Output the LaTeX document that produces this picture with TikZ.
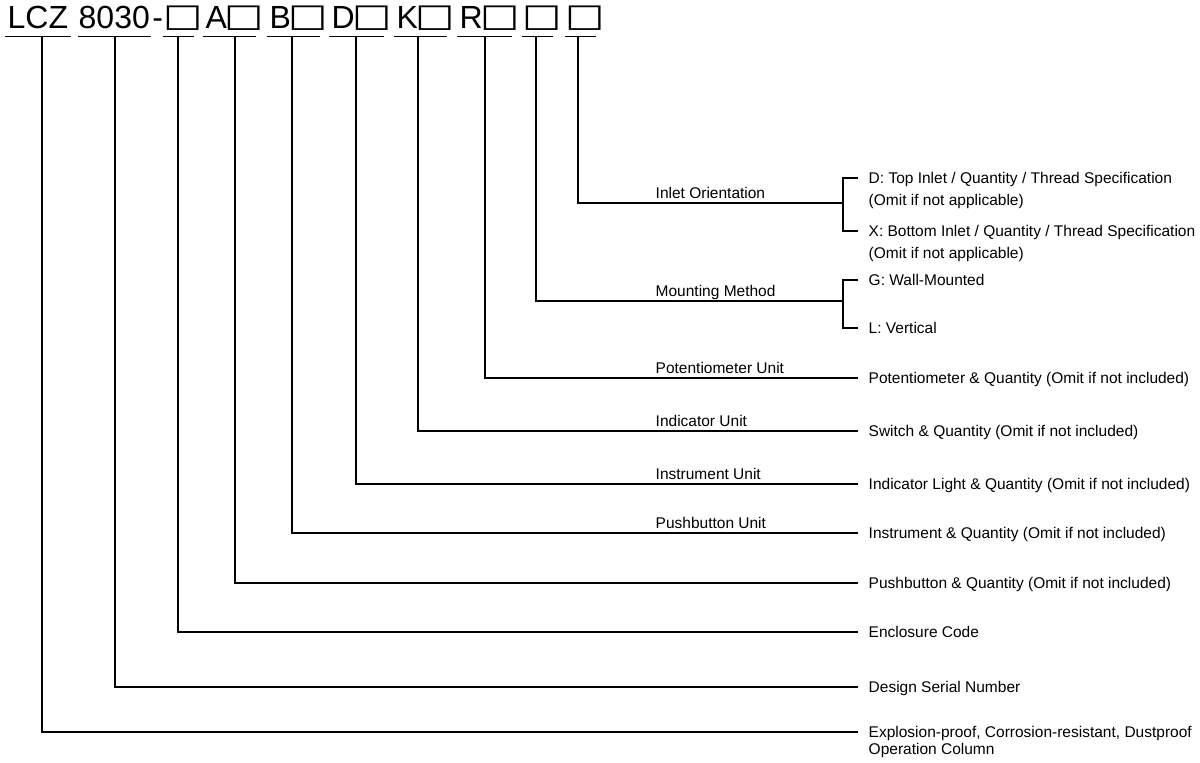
\documentclass[tikz,border=0pt]{standalone}
\usepackage{fontspec}
\setmainfont{Liberation Sans}
\newfontfamily\boxfont{DejaVu Sans}
\usepackage{graphicx}
\usepackage{tikz}
\usetikzlibrary{positioning}
\newcommand{\codebox}{{\boxfont\fontsize{16}{16}\selectfont\makebox[13pt]{\hspace{4pt}\raisebox{1pt}{\scalebox{1.3}[1]{□}}}}}

\begin{document}
\begin{tikzpicture}[x=0.5pt, y=-0.5pt, line width=0.7pt,
        code/.style={font=\fontsize{16}{18}\selectfont, anchor=base west, inner xsep=1pt, inner ysep=4pt, text depth=0pt},
        desc/.style={font=\fontsize{7.75}{9}\selectfont, anchor=west, inner xsep=5pt, inner ysep=0pt, text height=7pt, text depth=1.5pt},
        unit/.style={font=\fontsize{7.75}{9}\selectfont, anchor=base west, inner sep=0pt}]
      \useasboundingbox (0,0) rectangle (1200,762);
      \node[code] (lcz) at (5,28) {LCZ};
      \node[code, inner xsep=0pt] (num) at (78,28) {8030};
      \node[code, inner xsep=0.5pt] (dash) at (num.base east) {-};
      \foreach \n/\x/\t in {boxE/163/, boxA/203/A, boxB/267/B, boxD/329/D, boxK/394/K, boxR/457/R, boxM/522/, boxI/565/}
        \node[code] (\n) at (\x,28) {\t\codebox};
      \foreach \n in {lcz, num, boxE, boxA, boxB, boxD, boxK, boxR, boxM, boxI}
        \draw (\n.south west) -- (\n.south east);

      \node[desc] (dTop) at (858,178) {D: Top Inlet / Quantity / Thread Specification};
      \node[desc] (dTopNote) at (858,200) {(Omit if not applicable)};
      \node[desc] (dBot) at (858,231) {X: Bottom Inlet / Quantity / Thread Specification};
      \node[desc] (dBotNote) at (858,253) {(Omit if not applicable)};
      \node[desc] (dG) at (858,280) {G: Wall-Mounted};
      \node[desc] (dL) at (858,328) {L: Vertical};
      \node[desc] (dR) at (858,378) {Potentiometer \& Quantity (Omit if not included)};
      \node[desc] (dK) at (858,431) {Switch \& Quantity (Omit if not included)};
      \node[desc] (dD) at (858,484) {Indicator Light \& Quantity (Omit if not included)};
      \node[desc] (dB) at (858,533) {Instrument \& Quantity (Omit if not included)};
      \node[desc] (dA) at (858,583) {Pushbutton \& Quantity (Omit if not included)};
      \node[desc] (dE) at (858,632) {Enclosure Code};
      \node[desc] (dNum) at (858,687) {Design Serial Number};
      \node[desc] (dLcz) at (858,732) {Explosion-proof, Corrosion-resistant, Dustproof};
      \node[desc] (dLczNote) at (858,749) {Operation Column};

      \node[unit] (uI) at (655,198) {Inlet Orientation};
      \node[unit] (uM) at (655,296) {Mounting Method};
      \node[unit] (uR) at (655,373) {Potentiometer Unit};
      \node[unit] (uK) at (655,426) {Indicator Unit};
      \node[unit] (uD) at (655,479) {Instrument Unit};
      \node[unit] (uB) at (655,528) {Pushbutton Unit};

      \coordinate (jI) at (843,203);
      \coordinate (jM) at (843,301);
      \foreach \n/\x/\d in {lcz/42/dLcz, num/115/dNum, boxE/178/dE, boxA/235/dA, boxB/292/dB, boxD/356/dD, boxK/418/dK, boxR/485/dR, boxM/536/jM, boxI/578/jI}
        \draw (\n.south -| \x,0) |- (\d);
      \draw (dTop) -| (jI) |- (dBot);
      \draw (dG) -| (jM) |- (dL);
    \end{tikzpicture}
\end{document}
